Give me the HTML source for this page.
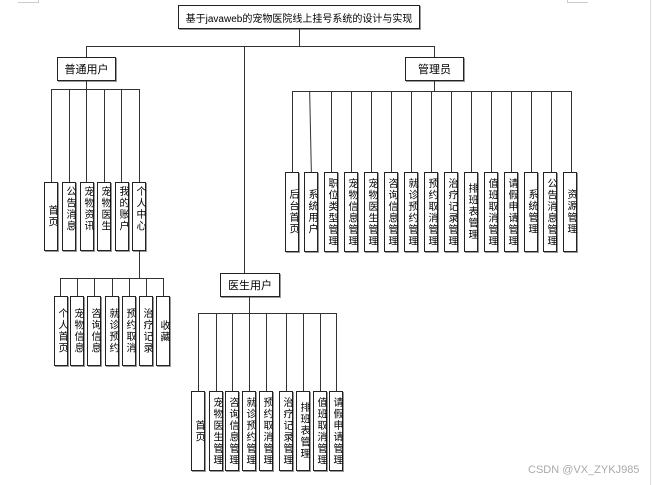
<!DOCTYPE html>
<html><head><meta charset="utf-8">
<style>
html,body{margin:0;padding:0;background:#fff;}
body{width:652px;height:485px;position:relative;overflow:hidden;font-family:"Liberation Sans","Noto Sans CJK SC",sans-serif;color:#000;}
.l{position:absolute;background:#333;}
.b{position:absolute;border:1px solid #222;box-shadow:1px 1px 0 #999;background:#fff;display:flex;align-items:center;justify-content:center;font-size:11px;box-sizing:border-box;white-space:nowrap;}
.v{position:absolute;border:1px solid #222;box-shadow:1px 1px 0 #999;background:#fff;box-sizing:border-box;display:flex;align-items:center;justify-content:center;}
.v span{writing-mode:vertical-rl;text-orientation:upright;font-size:10px;letter-spacing:1.5px;line-height:12px;color:#000;}
.v.t span{align-self:flex-start;margin-top:3px;}
</style></head><body>
<div class="l" style="left:18px;top:2px;width:20px;height:1px;background:#ccc"></div>
<div class="l" style="left:38px;top:0;width:1px;height:3px;background:#ccc"></div>
<div class="l" style="left:567px;top:2px;width:21px;height:1px;background:#ccc"></div>
<div class="l" style="left:567px;top:0;width:1px;height:3px;background:#ccc"></div>
<div class="l" style="left:650px;top:0;width:1px;height:485px;background:#ddd"></div>

<div class="b" style="left:178px;top:5px;width:242px;height:24px;font-size:10px;">基于javaweb的宠物医院线上挂号系统的设计与实现</div>
<div class="l" style="left:299px;top:29px;width:1px;height:17px"></div>
<div class="l" style="left:86px;top:46px;width:349px;height:1px"></div>
<div class="l" style="left:86px;top:46px;width:1px;height:11px"></div>
<div class="l" style="left:434px;top:46px;width:1px;height:11px"></div>
<div class="l" style="left:244px;top:46px;width:1px;height:227px"></div>

<div class="b" style="left:57px;top:57px;width:59px;height:24px">普通用户</div>
<div class="b" style="left:405px;top:57px;width:59px;height:24px">管理员</div>
<div class="b" style="left:220px;top:273px;width:60px;height:24px">医生用户</div>

<div class="l" style="left:86px;top:81px;width:1px;height:8px"></div>
<div class="l" style="left:51px;top:89px;width:89px;height:1px"></div>
<div class="l" style="left:51px;top:89px;width:1px;height:93px"></div>
<div class="l" style="left:69px;top:89px;width:1px;height:93px"></div>
<div class="l" style="left:86px;top:89px;width:1px;height:93px"></div>
<div class="l" style="left:104px;top:89px;width:1px;height:93px"></div>
<div class="l" style="left:121px;top:89px;width:1px;height:93px"></div>
<div class="l" style="left:139px;top:89px;width:1px;height:93px"></div>
<div class="v" style="left:44px;top:182px;width:14px;height:69px"><span>首页</span></div>
<div class="v t" style="left:62px;top:182px;width:14px;height:69px"><span>公告消息</span></div>
<div class="v t" style="left:80px;top:182px;width:14px;height:69px"><span>宠物资讯</span></div>
<div class="v t" style="left:97px;top:182px;width:14px;height:69px"><span>宠物医生</span></div>
<div class="v t" style="left:115px;top:182px;width:14px;height:69px"><span>我的账户</span></div>
<div class="v t" style="left:132px;top:182px;width:14px;height:69px"><span>个人中心</span></div>
<div class="l" style="left:139px;top:251px;width:1px;height:27px"></div>
<div class="l" style="left:60px;top:278px;width:104px;height:1px"></div>
<div class="l" style="left:60px;top:278px;width:1px;height:18px"></div>
<div class="l" style="left:77px;top:278px;width:1px;height:18px"></div>
<div class="l" style="left:94px;top:278px;width:1px;height:18px"></div>
<div class="l" style="left:112px;top:278px;width:1px;height:18px"></div>
<div class="l" style="left:129px;top:278px;width:1px;height:18px"></div>
<div class="l" style="left:146px;top:278px;width:1px;height:18px"></div>
<div class="l" style="left:163px;top:278px;width:1px;height:18px"></div>
<div class="v" style="left:54px;top:296px;width:14px;height:70px"><span>个人首页</span></div>
<div class="v" style="left:70px;top:296px;width:14px;height:70px"><span>宠物信息</span></div>
<div class="v" style="left:87px;top:296px;width:14px;height:70px"><span>咨询信息</span></div>
<div class="v" style="left:105px;top:296px;width:14px;height:70px"><span>就诊预约</span></div>
<div class="v" style="left:122px;top:296px;width:14px;height:70px"><span>预约取消</span></div>
<div class="v" style="left:139px;top:296px;width:14px;height:70px"><span>治疗记录</span></div>
<div class="v" style="left:156px;top:296px;width:14px;height:70px"><span>收藏</span></div>

<div class="l" style="left:434px;top:81px;width:1px;height:10px"></div>
<div class="l" style="left:292px;top:91px;width:280px;height:1px"></div>
<div class="l" style="left:292px;top:91px;width:1px;height:81px"></div>
<div class="l" style="left:310px;top:91px;width:1px;height:81px;transform:skewX(1.2deg)"></div>
<div class="l" style="left:331px;top:91px;width:1px;height:81px"></div>
<div class="l" style="left:351px;top:91px;width:1px;height:81px"></div>
<div class="l" style="left:371px;top:91px;width:1px;height:81px"></div>
<div class="l" style="left:391px;top:91px;width:1px;height:81px"></div>
<div class="l" style="left:411px;top:91px;width:1px;height:81px"></div>
<div class="l" style="left:431px;top:91px;width:1px;height:81px"></div>
<div class="l" style="left:451px;top:91px;width:1px;height:81px"></div>
<div class="l" style="left:471px;top:91px;width:1px;height:81px"></div>
<div class="l" style="left:491px;top:91px;width:1px;height:81px"></div>
<div class="l" style="left:511px;top:91px;width:1px;height:81px"></div>
<div class="l" style="left:531px;top:91px;width:1px;height:81px"></div>
<div class="l" style="left:551px;top:91px;width:1px;height:81px"></div>
<div class="l" style="left:571px;top:91px;width:1px;height:81px"></div>
<div class="v" style="left:285px;top:172px;width:14px;height:80px"><span>后台首页</span></div>
<div class="v" style="left:304px;top:172px;width:14px;height:80px"><span>系统用户</span></div>
<div class="v" style="left:324px;top:172px;width:14px;height:80px"><span>职位类型管理</span></div>
<div class="v" style="left:344px;top:172px;width:14px;height:80px"><span>宠物信息管理</span></div>
<div class="v" style="left:364px;top:172px;width:14px;height:80px"><span>宠物医生管理</span></div>
<div class="v" style="left:384px;top:172px;width:14px;height:80px"><span>咨询信息管理</span></div>
<div class="v" style="left:404px;top:172px;width:14px;height:80px"><span>就诊预约管理</span></div>
<div class="v" style="left:424px;top:172px;width:14px;height:80px"><span>预约取消管理</span></div>
<div class="v" style="left:444px;top:172px;width:14px;height:80px"><span>治疗记录管理</span></div>
<div class="v" style="left:464px;top:172px;width:14px;height:80px"><span>排班表管理</span></div>
<div class="v" style="left:484px;top:172px;width:14px;height:80px"><span>值班取消管理</span></div>
<div class="v" style="left:504px;top:172px;width:14px;height:80px"><span>请假申请管理</span></div>
<div class="v" style="left:524px;top:172px;width:14px;height:80px"><span>系统管理</span></div>
<div class="v" style="left:543px;top:172px;width:14px;height:80px"><span>公告消息管理</span></div>
<div class="v" style="left:563px;top:172px;width:14px;height:80px"><span>资源管理</span></div>

<div class="l" style="left:249px;top:297px;width:1px;height:16px"></div>
<div class="l" style="left:198px;top:313px;width:139px;height:1px"></div>
<div class="l" style="left:198px;top:313px;width:1px;height:78px"></div>
<div class="l" style="left:216px;top:313px;width:1px;height:78px"></div>
<div class="l" style="left:232px;top:313px;width:1px;height:78px"></div>
<div class="l" style="left:249px;top:313px;width:1px;height:78px"></div>
<div class="l" style="left:266px;top:313px;width:1px;height:78px"></div>
<div class="l" style="left:286px;top:313px;width:1px;height:78px"></div>
<div class="l" style="left:303px;top:313px;width:1px;height:78px"></div>
<div class="l" style="left:320px;top:313px;width:1px;height:78px"></div>
<div class="l" style="left:336px;top:313px;width:1px;height:78px"></div>
<div class="v" style="left:191px;top:391px;width:14px;height:80px"><span>首页</span></div>
<div class="v" style="left:209px;top:391px;width:14px;height:80px"><span>宠物医生管理</span></div>
<div class="v" style="left:225px;top:391px;width:14px;height:80px"><span>咨询信息管理</span></div>
<div class="v" style="left:242px;top:391px;width:14px;height:80px"><span>就诊预约管理</span></div>
<div class="v" style="left:259px;top:391px;width:14px;height:80px"><span>预约取消管理</span></div>
<div class="v" style="left:279px;top:391px;width:14px;height:80px"><span>治疗记录管理</span></div>
<div class="v" style="left:296px;top:391px;width:14px;height:80px"><span>排班表管理</span></div>
<div class="v" style="left:313px;top:391px;width:14px;height:80px"><span>值班取消管理</span></div>
<div class="v" style="left:329px;top:391px;width:14px;height:80px"><span>请假申请管理</span></div>

<div style="position:absolute;left:528px;top:464px;font-size:11px;color:#aaa;white-space:nowrap;">CSDN @VX_ZYKJ985</div>
</body></html>
